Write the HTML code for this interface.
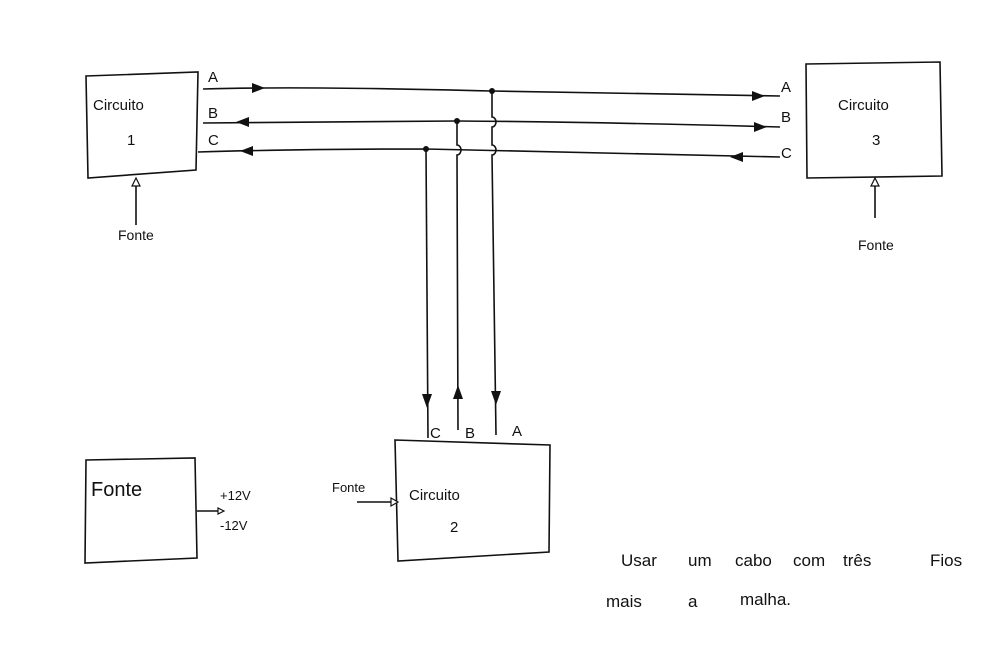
<!DOCTYPE html>
<html><head><meta charset="utf-8"><style>
html,body{margin:0;padding:0;background:#fff;}
svg{display:block;}
text{font-family:"Liberation Sans",sans-serif;fill:#111;}
</style></head><body>
<svg width="1000" height="668" viewBox="0 0 1000 668" xmlns="http://www.w3.org/2000/svg">
<g fill="none" stroke="#111" stroke-width="1.6">
<!-- Circuit 1 -->
<path d="M86,76 L198,72 L196,170 L88,178 Z"/>
<!-- Circuit 3 -->
<path d="M806,64 L940,62 L942,176 L807,178 Z"/>
<!-- Circuit 2 -->
<path d="M395,440 L550,445 L549,552 L398,561 Z"/>
<!-- Fonte box -->
<path d="M86,460 L195,458 L197,558 L85,563 Z"/>
<!-- A line -->
<path d="M203,89 Q300,86 492,91 L780,96"/>
<!-- B line -->
<path d="M203,123 L457,121 Q600,122 780,127"/>
<!-- C line -->
<path d="M198,152 Q300,149 426,149 L780,157"/>
<!-- verticals -->
<path d="M426,149 L428,438"/>
<path d="M457,121 L457,145 A4,5 0 0 1 457,155 L458,430"/>
<path d="M492,91 L492,117 A4,5 0 0 1 492,127 L492,145 A4,5 0 0 1 492,155 L496,435"/>
<!-- fonte arrows -->
<path d="M136,225 L136,182"/>
<path d="M875,218 L875,182"/>
<path d="M357,502 L394,502"/>
<path d="M197,511 L220,511"/>
</g>
<g fill="#111" stroke="none">
<circle cx="492" cy="91" r="3"/>
<circle cx="457" cy="121" r="3"/>
<circle cx="426" cy="149" r="3"/>
<!-- arrows -->
<path d="M265,88 L252,83 L252,93 Z"/>
<path d="M236,122 L249,117 L249,127 Z"/>
<path d="M240,151 L253,146 L253,156 Z"/>
<path d="M765,96 L752,91 L752,101 Z"/>
<path d="M767,127 L754,122 L754,132 Z"/>
<path d="M730,157 L743,152 L743,162 Z"/>
<path d="M427,408 L422,394 L432,394 Z"/>
<path d="M458,385 L453,399 L463,399 Z"/>
<path d="M496,405 L491,391 L501,391 Z"/>
</g>
<g fill="#fff" stroke="#111" stroke-width="1.2">
<path d="M136,178 L132,186 L140,186 Z"/>
<path d="M875,178 L871,186 L879,186 Z"/>
<path d="M398,502 L391,498 L391,506 Z"/>
<path d="M224,511 L218,508 L218,514 Z"/>
</g>
<g font-size="15">
<text x="93" y="110">Circuito</text>
<text x="127" y="145">1</text>
<text x="838" y="110">Circuito</text>
<text x="872" y="145">3</text>
<text x="409" y="500">Circuito</text>
<text x="450" y="532">2</text>
<text x="208" y="82">A</text>
<text x="208" y="118">B</text>
<text x="208" y="145">C</text>
<text x="781" y="92">A</text>
<text x="781" y="122">B</text>
<text x="781" y="158">C</text>
<text x="430" y="438">C</text>
<text x="465" y="438">B</text>
<text x="512" y="436">A</text>
<text x="118" y="240" font-size="14">Fonte</text>
<text x="858" y="250" font-size="14">Fonte</text>
<text x="332" y="492" font-size="13">Fonte</text>
<text x="91" y="496" font-size="20">Fonte</text>
<text x="220" y="500" font-size="13">+12V</text>
<text x="220" y="530" font-size="13">-12V</text>
<text x="621" y="566" font-size="17">Usar</text>
<text x="688" y="566" font-size="17">um</text>
<text x="735" y="566" font-size="17">cabo</text>
<text x="793" y="566" font-size="17">com</text>
<text x="843" y="566" font-size="17">três</text>
<text x="930" y="566" font-size="17">Fios</text>
<text x="606" y="607" font-size="17">mais</text>
<text x="688" y="607" font-size="17">a</text>
<text x="740" y="605" font-size="17">malha.</text>
</g>
</svg>
</body></html>
